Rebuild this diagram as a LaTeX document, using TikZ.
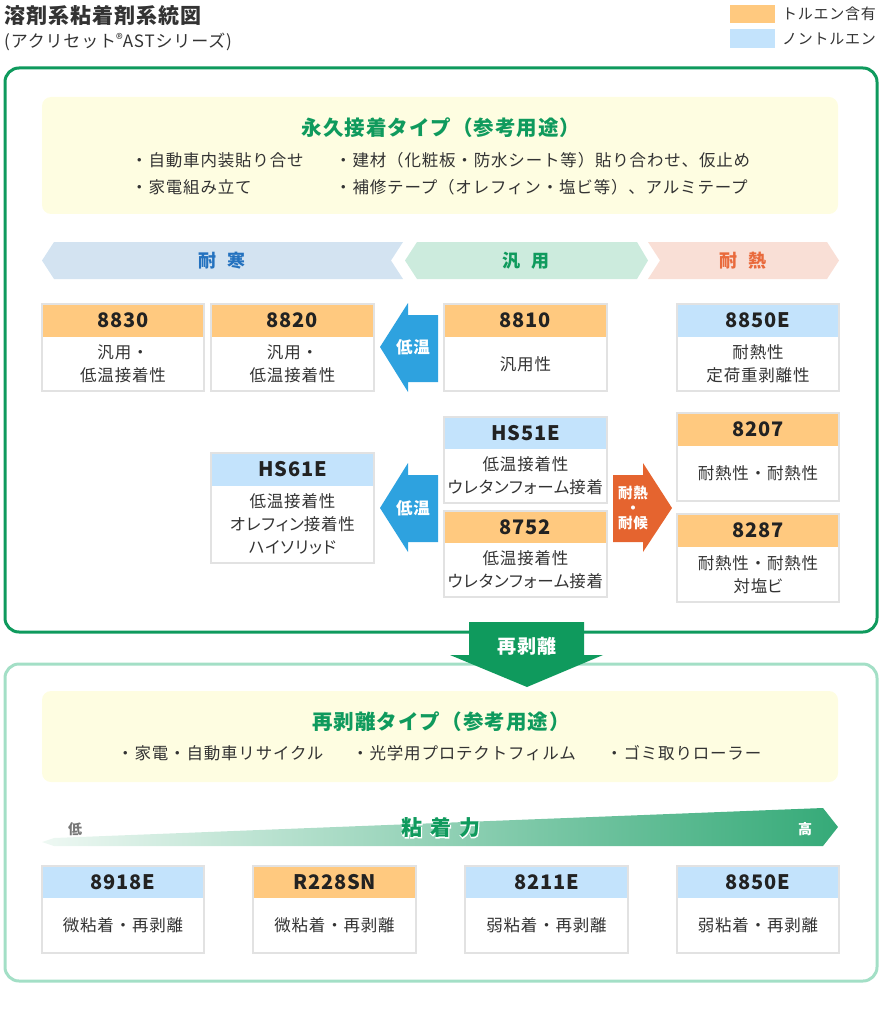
\documentclass[tikz,border=0pt]{standalone}
\usepackage{fontspec}
\setmainfont{Noto Sans CJK JP}[LetterSpace=5]
\newfontfamily\numfont{Noto Sans CJK JP}[LetterSpace=4]
\newfontfamily\kanafont{Noto Sans CJK JP}[RawFeature=+palt, LetterSpace=5]
\newfontfamily\outlinefont{Noto Sans CJK JP}[LetterSpace=5, FakeBold=6]
\newcommand\kn[1]{{\kanafont #1}}
\usetikzlibrary{calc}
\definecolor{txtgray}{HTML}{333333}
\definecolor{numgray}{HTML}{222222}
\definecolor{mgreen}{HTML}{0F9A5D}
\definecolor{lgreenline}{HTML}{A3DFC6}
\definecolor{ylw}{HTML}{FEFDE1}
\definecolor{hdrorange}{HTML}{FFC97F}
\definecolor{hdrblue}{HTML}{C3E3FC}
\definecolor{cardline}{HTML}{E2E2E2}
\definecolor{arrblue}{HTML}{2EA2DF}
\definecolor{arrorange}{HTML}{E5642F}
\definecolor{bandblue}{HTML}{D3E3F1}
\definecolor{bandgreen}{HTML}{CCEBDD}
\definecolor{bandorange}{HTML}{F9DFD6}
\definecolor{bandbluetxt}{HTML}{2472BF}
\definecolor{bandorangetxt}{HTML}{E96A3C}
\definecolor{gradlight}{HTML}{EEF8F3}
\definecolor{graddark}{HTML}{35AA78}
\definecolor{lowgray}{HTML}{777777}
\newcommand\prodcard[9]{%
  \fill[#7] (#2,#3) rectangle (#4,#5);
  \draw[cardline, line width=1.3pt] (#2,#3) rectangle (#4,#6);
  \node[num] (#1) at ({(#2+#4)/2},{(#3+#5)/2}) {#8};
  \node[desc] (#1-d) at ({(#2+#4)/2},{(#5+#6)/2}) {#9};
}
\begin{document}
\begin{tikzpicture}[x=1pt,y=-1pt,
  desc/.style={text=txtgray, inner sep=0pt, align=center, font=\fontsize{16.5}{23}\selectfont},
  num/.style={text=numgray, inner sep=0pt, font=\numfont\bfseries\fontsize{20}{21}\selectfont},
  bullet/.style={text=txtgray, inner sep=0pt, anchor=west, font=\fontsize{16.5}{18}\selectfont},
  heading/.style={text=mgreen, inner sep=0pt, font=\bfseries\fontsize{20.5}{22}\selectfont},
  bandtxt/.style={inner sep=0pt, font=\bfseries\fontsize{18}{19}\selectfont},
  arrtxt/.style={text=white, inner sep=0pt, align=center, font=\bfseries\fontsize{16.5}{17}\selectfont},
  legtxt/.style={text=txtgray, inner sep=0pt, anchor=west, font=\fontsize{15}{16}\selectfont},
  bigbox/.style={line width=3pt, rounded corners=14pt},
  ylwbox/.style={fill=ylw, rounded corners=9pt}
]
\useasboundingbox (0,0) rectangle (881,1024);

% title
\node[inner sep=0pt, anchor=west, text=txtgray, font=\bfseries\fontsize{21}{22}\selectfont] (title) at (4,16) {溶剤系粘着剤系統図};
\node[inner sep=0pt, anchor=west, text=txtgray, font=\fontsize{17}{18}\selectfont] (subtitle) at (4,42) {(アクリセット\raisebox{0.35ex}{\fontsize{14}{14}\selectfont ®}ASTシリーズ)};

% legend
\fill[hdrorange] (730,5) rectangle (775,23);
\fill[hdrblue] (730,29) rectangle (775,48);
\node[legtxt] (leg1) at (782,14) {トルエン含有};
\node[legtxt] (leg2) at (782,39) {ノントルエン};

% big boxes
\draw[bigbox, draw=mgreen] (5,68) rectangle (877,632);
\draw[bigbox, draw=lgreenline] (5,664) rectangle (877,981);

% upper yellow box
\fill[ylwbox] (42,97) rectangle (838,214);
\node[heading] (h1) at (441,128) {永久接着タイプ（参考用途）};
\node[bullet] (b1) at (131,160) {・自動車内装貼り合せ};
\node[bullet] (b2) at (335,160) {・建材（化粧板・防水シート等）貼り合わせ、仮止め};
\node[bullet] (b3) at (131,187) {・家電組み立て};
\node[bullet] (b4) at (335,187) {・補修テープ（オレフィン・塩ビ等）、アルミテープ};

% bands
\fill[bandblue] (42,260.5) -- (54,242) -- (403,242) -- (391,260.5) -- (403,279) -- (54,279) -- cycle;
\fill[bandgreen] (405,260.5) -- (417,242) -- (637,242) -- (648,260.5) -- (637,279) -- (417,279) -- cycle;
\fill[bandorange] (648,242) -- (827,242) -- (839,260.5) -- (827,279) -- (648,279) -- (660,260.5) -- cycle;
\node[bandtxt, text=bandbluetxt] (cold) at (222,260.5) {耐\hspace{11pt}寒};
\node[bandtxt, text=mgreen] (gen) at (526,260.5) {汎\hspace{11pt}用};
\node[bandtxt, text=bandorangetxt] (heat) at (743,260.5) {耐\hspace{11pt}熱};

% cards row 1
\prodcard{p8830}{42}{304}{204}{337}{391}{hdrorange}{8830}{汎用・\\低温接着性}
\prodcard{p8820}{211}{304}{374}{337}{391}{hdrorange}{8820}{汎用・\\低温接着性}
\prodcard{p8810}{444}{304}{607}{337}{391}{hdrorange}{8810}{汎用性}
\prodcard{p8850a}{677}{304}{839}{337}{391}{hdrblue}{8850E}{耐熱性\\定荷重剥離性}

% cards row 2
\prodcard{pHS51E}{444}{417}{607}{449}{503}{hdrblue}{HS51E}{低温接着性\\\kn{ウレタンフォーム}接着}
\prodcard{p8752}{444}{511}{607}{543}{597}{hdrorange}{8752}{低温接着性\\\kn{ウレタンフォーム}接着}
\prodcard{pHS61E}{211}{453}{374}{486}{563}{hdrblue}{HS61E}{低温接着性\\\kn{オレフィン}接着性\\\kn{ハイソリッド}}
\prodcard{p8207}{677}{413}{839}{446}{501}{hdrorange}{8207}{耐熱性・耐熱性}
\prodcard{p8287}{677}{514}{839}{547}{602}{hdrorange}{8287}{耐熱性・耐熱性\\対塩\kn{ビ}}

% low temp arrows
\fill[arrblue] (380,347) -- (408,303) -- (408,315) -- (438,315) -- (438,382) -- (408,382) -- (408,392) -- cycle;
\node[arrtxt] (lt1) at (413,347) {低温};
\fill[arrblue] (380,508) -- (408,463) -- (408,475) -- (438,475) -- (438,542) -- (408,542) -- (408,552) -- cycle;
\node[arrtxt] (lt2) at (413,508) {低温};
% heat/weather arrow
\fill[arrorange] (613,475) -- (643,475) -- (643,463) -- (672,508) -- (643,552) -- (643,542) -- (613,542) -- cycle;
\node[arrtxt, font=\bfseries\fontsize{14.5}{15}\selectfont] (hw) at (633,508) {耐熱\\・\\耐候};

% middle arrow
\fill[mgreen] (469,622) -- (584,622) -- (584,655) -- (603,655) -- (527,687) -- (450,655) -- (469,655) -- cycle;
\node[arrtxt, font=\bfseries\fontsize{19}{19}\selectfont] (rep) at (527,646) {再剥離};

% lower yellow box
\fill[ylwbox] (42,691) rectangle (838,782);
\node[heading] (h2) at (441,722) {再剥離タイプ（参考用途）};
\node[bullet] (c1) at (117,753) {・家電・自動車リサイクル};
\node[bullet] (c2) at (352,753) {・光学用プロテクトフィルム};
\node[bullet] (c3) at (606,753) {・ゴミ取りローラー};

% gradient bar
\shade[left color=gradlight, right color=graddark] (42,842) -- (54,838) -- (823,808) -- (838,827) -- (823,846) -- (54,846) -- cycle;
\node[inner sep=0pt, text=lowgray, font=\bfseries\fontsize{14}{15}\selectfont] (low) at (75,829) {低};
\node[inner sep=0pt, text=white, font=\bfseries\fontsize{14}{15}\selectfont] (high) at (805,829) {高};
\node[inner sep=0pt, text=white, font=\outlinefont\bfseries\fontsize{21}{22}\selectfont] (forceoutline) at (441,828) {粘\hspace{8pt}着\hspace{8pt}力};
\node[inner sep=0pt, text=mgreen, font=\bfseries\fontsize{21}{22}\selectfont] (force) at (441,828) {粘\hspace{8pt}着\hspace{8pt}力};

% bottom cards
\prodcard{p8918E}{42}{866}{204}{898}{953}{hdrblue}{8918E}{微粘着・再剥離}
\prodcard{pR228SN}{253}{866}{416}{898}{953}{hdrorange}{R228SN}{微粘着・再剥離}
\prodcard{p8211E}{465}{866}{628}{898}{953}{hdrblue}{8211E}{弱粘着・再剥離}
\prodcard{p8850b}{677}{866}{839}{898}{953}{hdrblue}{8850E}{弱粘着・再剥離}
\end{tikzpicture}
\end{document}
